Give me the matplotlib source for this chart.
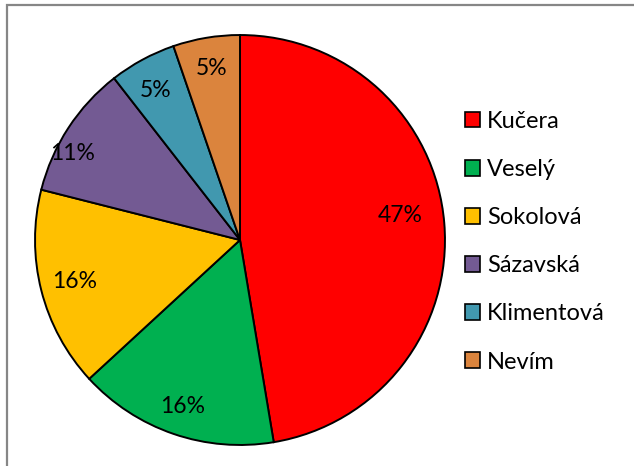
import matplotlib.pyplot as plt
from matplotlib.patches import Rectangle
import numpy as np

plt.rcParams['font.family'] = ['Lato', 'DejaVu Sans']

# hlasy (počty odpovědí)
labels = ['Kučera', 'Veselý', 'Sokolová', 'Sázavská', 'Klimentová', 'Nevím']
counts = [9, 3, 3, 2, 1, 1]
pct_labels = ['47%', '16%', '16%', '11%', '5%', '5%']
colors = ['#FF0000', '#00B050', '#FFC000', '#735A93', '#4198AF', '#DB843D']

W, H = 634, 466
fig = plt.figure(figsize=(W / 100, H / 100), dpi=100)

# rámeček grafu (oříznutý vpravo a dole)
fig.patches.append(Rectangle((7 / W, -0.1), 1.2, (H - 5) / H + 0.1,
                             transform=fig.transFigure, fill=False,
                             edgecolor='#868686', linewidth=1.6))

cx, cy, r = 240, 240, 206
ax = fig.add_axes([(cx - r) / W, (H - cy - r) / H, 2 * r / W, 2 * r / H])
wedges, texts = ax.pie(counts, colors=colors, startangle=90, counterclock=False,
                       wedgeprops=dict(edgecolor='black', linewidth=1.4))
ax.set_xlim(-1.005, 1.005)
ax.set_ylim(-1.005, 1.005)
ax.set_aspect('equal')

# popisky procent (umístění jako v Excelu)
dist = [0.79, 0.86, 0.83, 0.92, 0.84, 0.85]
shift = [4, 0, 0, 6, 1, 0]  # stupně
for w, t, d, s in zip(wedges, pct_labels, dist, shift):
    a = np.deg2rad((w.theta1 + w.theta2) / 2 + s)
    ax.text(d * np.cos(a), d * np.sin(a), t, ha='center', va='center',
            fontsize=16.5, color='black')

leg = fig.legend(wedges, labels, loc='upper left', bbox_to_anchor=(453 / W, 1 - 99 / H),
                 frameon=False, fontsize=17, handlelength=0.65, handleheight=0.65,
                 handletextpad=0.3, labelspacing=1.15, borderpad=0)
for h in leg.legend_handles:
    h.set_linewidth(1.2)

fig.savefig('out.png', dpi=100)
